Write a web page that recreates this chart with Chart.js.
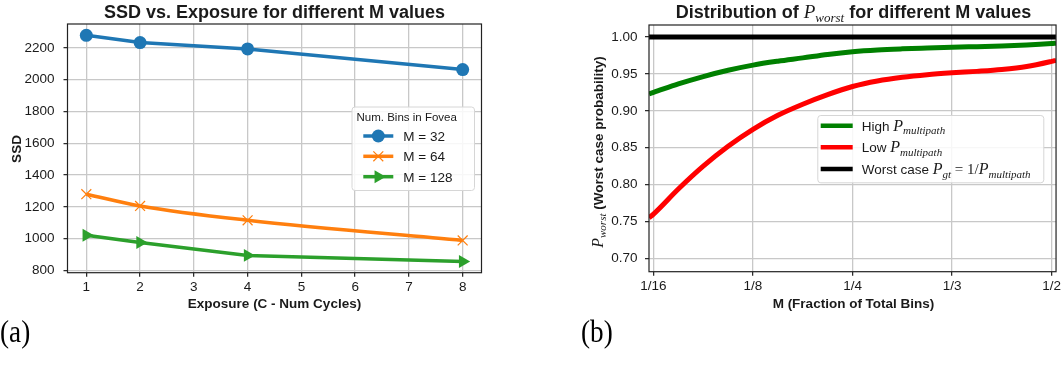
<!DOCTYPE html>
<html>
<head>
<meta charset="utf-8">
<script src="https://cdn.jsdelivr.net/npm/chart.js@4.4.0/dist/chart.umd.min.js"></script>
<style>
body { margin: 0; background: #fff; width: 1063px; height: 377px; overflow: hidden; position: relative; }
#ssd { position: absolute; left: 0; top: 0; }
#pw { position: absolute; left: 531px; top: 0; }
.cap { position: absolute; top: 312px; font-family: 'Liberation Serif', 'Times New Roman', serif; font-size: 32px;
       line-height: 1.2; color: #000; transform: scaleX(0.85); transform-origin: left top; }
</style>
</head>
<body>
<canvas id="ssd" width="531" height="377"></canvas>
<canvas id="pw" width="532" height="377"></canvas>
<div class="cap" style="left:0">(a)</div>
<div class="cap" style="left:581px">(b)</div>
<script>
// left panel: SSD vs exposure
const exposureCycles = [1, 2, 4, 8];
const ssdM32 = [2280, 2234, 2194, 2064];
const ssdM64 = [1280, 1206, 1116, 989];
const ssdM128 = [1021, 976, 895, 857];
const ssdXTicks = [1, 2, 3, 4, 5, 6, 7, 8];
const ssdYTicks = [800, 1000, 1200, 1400, 1600, 1800, 2000, 2200];

// right panel: P_worst vs fraction of bins (x = tick index)
const fracTickPos = [0, 1, 2, 3, 4];
const fracTickLabels = ['1/16', '1/8', '1/4', '1/3', '1/2'];
const fracPos = [-0.045, 0, 0.25, 0.5, 0.75, 1, 1.25, 1.5, 1.75, 2, 2.25, 2.5, 2.75, 3, 3.25, 3.5, 3.75, 4, 4.045];
const pHigh = [0.923, 0.925, 0.9365, 0.9465, 0.955, 0.962, 0.9673, 0.9718, 0.9765, 0.9802, 0.9826, 0.9841, 0.9852, 0.9862, 0.987, 0.9878, 0.9892, 0.9912, 0.9917];
const pLow = [0.755, 0.760, 0.794, 0.825, 0.852, 0.875, 0.894, 0.909, 0.922, 0.933, 0.9405, 0.9455, 0.949, 0.9515, 0.9535, 0.956, 0.960, 0.967, 0.9685];
const worstPos = [-0.045, 4.045];
const pWorstCase = [1, 1];
const pwYTicks = [0.70, 0.75, 0.80, 0.85, 0.90, 0.95, 1.00];

const SANS = "'Liberation Sans', Arial, Helvetica, sans-serif";
const SERIF = "'Liberation Serif', 'Times New Roman', serif";
const TXT = '#1a1a1a';
const GRID = '#c8c8c8';

const pairs = (xs, ys) => xs.map((x, i) => ({ x: x, y: ys[i] }));

// draw text made of runs [text, font, dy]
function drawRuns(ctx, runs, x, y, align) {
    let w = 0;
    runs.forEach(r => { ctx.font = r[1]; w += ctx.measureText(r[0]).width; });
    let cx = align === 'center' ? x - w / 2 : x;
    ctx.textAlign = 'left';
    ctx.textBaseline = 'alphabetic';
    runs.forEach(r => {
        ctx.font = r[1];
        ctx.fillText(r[0], cx, y + (r[2] || 0));
        cx += ctx.measureText(r[0]).width;
    });
}

function legendBox(ctx, x, y, w, h) {
    ctx.save();
    ctx.beginPath();
    ctx.roundRect(x + 0.5, y + 0.5, w, h, 3);
    ctx.fillStyle = 'rgba(255,255,255,0.85)';
    ctx.fill();
    ctx.strokeStyle = '#d6d6d6';
    ctx.lineWidth = 1;
    ctx.stroke();
    ctx.restore();
}

function frame(chart) {
    const a = chart.chartArea, ctx = chart.ctx;
    ctx.save();
    ctx.strokeStyle = '#222';
    ctx.lineWidth = 1.2;
    ctx.strokeRect(a.left, a.top, a.right - a.left, a.bottom - a.top);
    ctx.restore();
}

function scaleOpts(min, max, ticks, labelFn, pad, isX) {
    return {
        type: 'linear',
        min: min,
        max: max,
        afterBuildTicks: s => { s.ticks = ticks.map(v => ({ value: v })); },
        afterFit: s => { if (isX) s.height = 30; },
        grid: { color: GRID, lineWidth: 1.3, tickColor: '#222', tickLength: 4, tickWidth: 1.2 },
        border: { display: false },
        ticks: {
            autoSkip: false, maxRotation: 0, padding: pad, color: TXT,
            font: { family: SANS, size: 13.5 },
            callback: labelFn
        }
    };
}

const ssdDecor = {
    id: 'ssdDecor',
    afterDraw(chart) {
        const ctx = chart.ctx;
        frame(chart);
        ctx.save();
        ctx.fillStyle = TXT;
        drawRuns(ctx, [['SSD vs. Exposure for different M values', 'bold 18px ' + SANS]], 274.5, 17.5, 'center');
        drawRuns(ctx, [['Exposure (C - Num Cycles)', 'bold 13.5px ' + SANS]], 274.5, 308, 'center');
        ctx.translate(20.5, 149);
        ctx.rotate(-Math.PI / 2);
        drawRuns(ctx, [['SSD', 'bold 13.5px ' + SANS]], 0, 0, 'center');
        ctx.restore();

        // legend
        legendBox(ctx, 351.5, 106.5, 122.5, 83.5);
        ctx.save();
        ctx.fillStyle = TXT;
        drawRuns(ctx, [['Num. Bins in Fovea', '11.5px ' + SANS]], 356.5, 121);
        const rows = [136, 156.3, 176.7];
        chart.data.datasets.forEach((ds, i) => {
            const y = rows[i];
            ctx.strokeStyle = ds.borderColor;
            ctx.lineWidth = ds.borderWidth;
            ctx.beginPath();
            ctx.moveTo(363.3, y);
            ctx.lineTo(393.3, y);
            ctx.stroke();
            ctx.fillStyle = ds.backgroundColor;
            ctx.lineWidth = ds.pointBorderWidth;
            Chart.helpers.drawPoint(ctx, {
                pointStyle: ds.pointStyle, radius: ds.pointRadius,
                rotation: ds.pointRotation || 0, borderWidth: ds.pointBorderWidth
            }, 378.3, y);
            ctx.fillStyle = TXT;
            drawRuns(ctx, [[ds.label, '13.5px ' + SANS]], 403.3, y + 5);
        });
        ctx.restore();
    }
};

new Chart(document.getElementById('ssd'), {
    type: 'line',
    data: {
        datasets: [
            { label: 'M = 32', data: pairs(exposureCycles, ssdM32), borderColor: '#1f77b4', backgroundColor: '#1f77b4',
              borderWidth: 3.5, pointStyle: 'circle', pointRadius: 6.5, pointBorderWidth: 0 },
            { label: 'M = 64', data: pairs(exposureCycles, ssdM64), borderColor: '#ff7f0e', backgroundColor: '#ff7f0e',
              borderWidth: 3.5, pointStyle: 'crossRot', pointRadius: 7, pointBorderWidth: 1.2, cubicInterpolationMode: 'monotone' },
            { label: 'M = 128', data: pairs(exposureCycles, ssdM128), borderColor: '#2ca02c', backgroundColor: '#2ca02c',
              borderWidth: 3.5, pointStyle: 'triangle', pointRotation: 90, pointRadius: 7.5, pointBorderWidth: 0 }
        ]
    },
    options: {
        responsive: false,
        animation: false,
        devicePixelRatio: 1,
        layout: { padding: { left: 0, top: 24, right: 49.5, bottom: 74.3 } },
        plugins: { legend: { display: false }, tooltip: { enabled: false } },
        scales: {
            x: scaleOpts(0.65, 8.35, ssdXTicks, v => String(v), 2, true),
            y: Object.assign(scaleOpts(786, 2351, ssdYTicks, v => String(v), 9, false),
                { afterFit: s => { s.width = 67.5; } })
        }
    },
    plugins: [ssdDecor]
});

const pwDecor = {
    id: 'pwDecor',
    afterDraw(chart) {
        const ctx = chart.ctx;
        frame(chart);
        ctx.save();
        ctx.fillStyle = TXT;
        drawRuns(ctx, [
            ['Distribution of ', 'bold 18px ' + SANS],
            ['P', 'italic 19px ' + SERIF],
            ['worst', 'italic 13px ' + SERIF, 4],
            [' for different M values', 'bold 18px ' + SANS]
        ], 322.5, 17.5, 'center');
        drawRuns(ctx, [['M (Fraction of Total Bins)', 'bold 13.5px ' + SANS]], 322.5, 308, 'center');
        ctx.translate(72, 152);
        ctx.rotate(-Math.PI / 2);
        drawRuns(ctx, [
            ['P', 'italic 16px ' + SERIF],
            ['worst', 'italic 11px ' + SERIF, 3],
            [' (Worst case probability)', 'bold 13.5px ' + SANS]
        ], 0, 0, 'center');
        ctx.restore();

        // legend
        legendBox(ctx, 286.3, 115, 226, 67.3);
        const sub = (t) => [t, 'italic 11px ' + SERIF, 3.5];
        const P = ['P', 'italic 16px ' + SERIF];
        const labels = [
            [['High ', '13.5px ' + SANS], P, sub('multipath')],
            [['Low ', '13.5px ' + SANS], P, sub('multipath')],
            [['Worst case ', '13.5px ' + SANS], P, sub('gt'), [' = 1/', '15px ' + SERIF], P, sub('multipath')]
        ];
        const rows = [125.7, 147.3, 169];
        ctx.save();
        chart.data.datasets.forEach((ds, i) => {
            const y = rows[i];
            ctx.strokeStyle = ds.borderColor;
            ctx.lineWidth = 4.5;
            ctx.beginPath();
            ctx.moveTo(289.7, y);
            ctx.lineTo(321.7, y);
            ctx.stroke();
            ctx.fillStyle = TXT;
            drawRuns(ctx, labels[i], 330.7, y + 5);
        });
        ctx.restore();
    }
};

new Chart(document.getElementById('pw'), {
    type: 'line',
    data: {
        datasets: [
            { label: 'High', data: pairs(fracPos, pHigh), borderColor: '#008000', borderWidth: 5,
              pointRadius: 0, cubicInterpolationMode: 'monotone' },
            { label: 'Low', data: pairs(fracPos, pLow), borderColor: '#ff0000', borderWidth: 5,
              pointRadius: 0, cubicInterpolationMode: 'monotone' },
            { label: 'Worst case', data: pairs(worstPos, pWorstCase), borderColor: '#000000', borderWidth: 5,
              pointRadius: 0 }
        ]
    },
    options: {
        responsive: false,
        animation: false,
        devicePixelRatio: 1,
        layout: { padding: { left: 0, top: 25, right: 5, bottom: 75.3 } },
        plugins: { legend: { display: false }, tooltip: { enabled: false } },
        scales: {
            x: scaleOpts(-0.045, 4.045, fracTickPos, v => fracTickLabels[v], 2, true),
            y: Object.assign(scaleOpts(0.6818, 1.0164, pwYTicks, v => v.toFixed(2), 7.5, false),
                { afterFit: s => { s.width = 118; } })
        }
    },
    plugins: [pwDecor]
});
</script>
</body>
</html>
